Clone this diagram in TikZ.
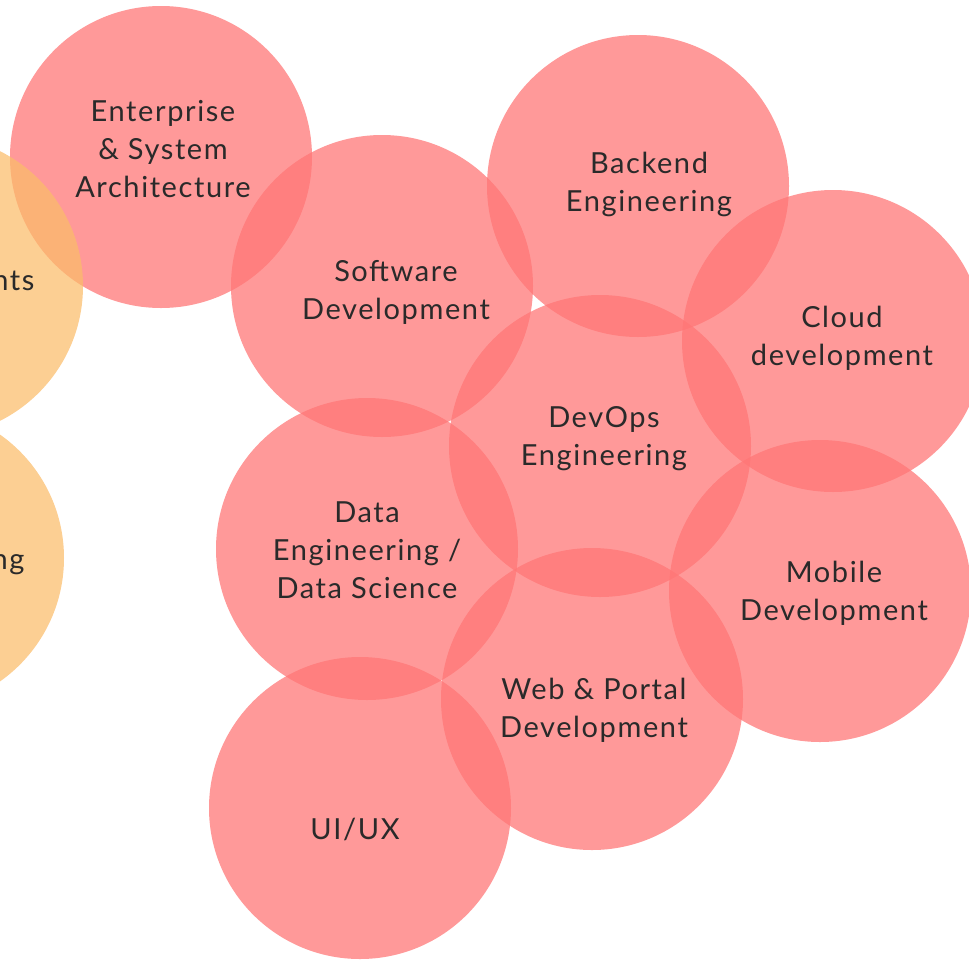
\documentclass[tikz,border=0pt]{standalone}
\usepackage{fontspec}
\setmainfont[LetterSpace=5.5]{Lato}
\usepackage{tikz}
\definecolor{discred}{RGB}{255,118,118}
\definecolor{discorange}{RGB}{251,188,106}
\definecolor{labelgray}{RGB}{42,42,42}

\begin{document}
\begin{tikzpicture}[x=1pt, y=-1pt,
		reddisc/.style={circle, inner sep=0pt, minimum size=302pt, fill=discred, fill opacity=0.745},
		orangedisc/.style={circle, inner sep=0pt, minimum size=302pt, fill=discorange, fill opacity=0.72},
		disclabel/.style={align=center, text=labelgray, font=\fontsize{29}{38}\selectfont}]
			%%%%% START %%%%%
			
			\useasboundingbox (0, 0) rectangle (969, 959);
			\clip (0, 0) rectangle (969, 959);
			
			\node[reddisc] (arch) at (161, 157) {};
			\node[reddisc] (soft) at (382, 286) {};
			\node[reddisc] (back) at (638, 186) {};
			\node[reddisc] (cloud) at (833, 341) {};
			\node[reddisc] (devops) at (600, 446) {};
			\node[reddisc] (data) at (367, 549) {};
			\node[reddisc] (mobile) at (820, 591) {};
			\node[reddisc] (web) at (592, 699) {};
			\node[reddisc] (uiux) at (360, 808) {};
			
			\node[orangedisc] (reqs) at (-68, 286) {};
			\node[orangedisc] (testing) at (-87, 558) {};
			
			\node[disclabel] (arch-text) at (163, 149) {Enterprise\\\& System\\Architecture};
			\node[disclabel] (soft-text) at (396, 292) {Software\\Development};
			\node[disclabel] (back-text) at (649, 184) {Backend\\Engineering};
			\node[disclabel] (cloud-text) at (842, 338) {Cloud\\development};
			\node[disclabel] (devops-text) at (604, 439) {DevOps\\Engineering};
			\node[disclabel] (data-text) at (367, 550) {Data\\Engineering /\\Data Science};
			\node[disclabel] (mobile-text) at (834, 593) {Mobile\\Development};
			\node[disclabel] (web-text) at (594, 710) {Web \& Portal\\Development};
			\node[disclabel] (uiux-text) at (355, 829) {UI/UX};
			
			\node[disclabel, anchor=east] (reqs-text) at (38, 281) {nts};
			\node[disclabel, anchor=east] (testing-text) at (28, 565) {ng};
			
			%%%%% END %%%%%
		\end{tikzpicture}
\end{document}
